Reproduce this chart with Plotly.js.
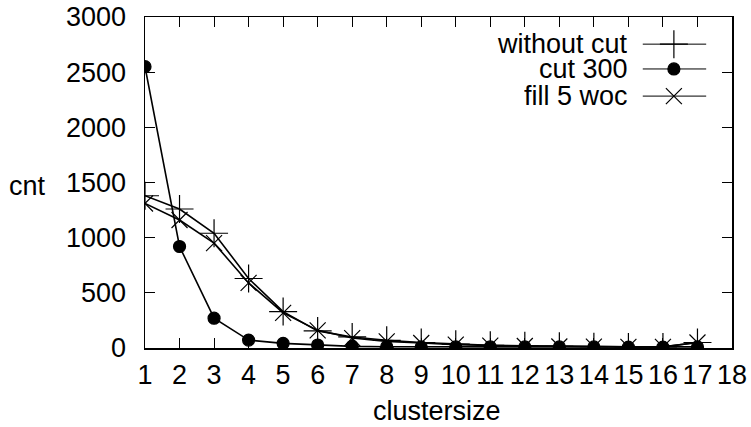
<!DOCTYPE html>
<html><head><meta charset="utf-8">
<script src="https://cdn.plot.ly/plotly-3.0.1.min.js"></script>
<style>body{margin:0;background:#fff}#c{width:751px;height:427px}</style>
</head><body><div id="c"></div>
<script>
var clustersize = [1,2,3,4,5,6,7,8,9,10,11,12,13,14,15,16,17];
var withoutCut = [1380,1260,1040,630,330,155,100,70,50,35,25,20,15,12,10,10,50];
var cut300 = [2550,920,270,72,42,27,15,12,10,10,10,10,10,10,8,8,10];
var fill5woc = [1310,1160,950,590,318,160,90,60,45,30,22,18,14,12,10,10,50];
var seriesNames = ['without cut','cut 300','fill 5 woc'];
var xTicks = [1,2,3,4,5,6,7,8,9,10,11,12,13,14,15,16,17,18];
var yTicks = [0,500,1000,1500,2000,2500,3000];

var font = {family:'Liberation Sans, Arial, sans-serif', size:27, color:'#000'};
var symbols = ['cross-thin-open','circle','x-thin-open'];
var msize = [20,12,16];
var data = [withoutCut, cut300, fill5woc];
var traces = data.map(function(d,i){
  return {x:clustersize, y:d, type:'scatter', mode:'lines+markers', name:seriesNames[i],
    line:{color:'#000', width:1.6},
    marker:{symbol:symbols[i], size:msize[i], color:'#000', line:{color:'#000', width:1.2}},
    showlegend:false, hoverinfo:'skip'};
});
var legY = [0.918, 0.843, 0.761];
var shapes = [];
var annotations = [];
seriesNames.forEach(function(n,i){
  shapes.push({type:'line', xref:'paper', yref:'paper', x0:0.848, x1:0.956, y0:legY[i], y1:legY[i], line:{color:'#000', width:1}});
  annotations.push({text:n, xref:'paper', yref:'paper', x:0.825, y:legY[i], xanchor:'right', yanchor:'middle', showarrow:false, font:font, height:24, borderpad:0});
  traces.push({x:[0.901], y:[legY[i]], xaxis:'x2', yaxis:'y2', type:'scatter', mode:'markers',
    marker:{symbol:symbols[i], size:msize[i], color:'#000', line:{color:'#000', width:1.2}}, showlegend:false, hoverinfo:'skip'});
});
annotations.push({text:'cnt', xref:'paper', yref:'paper', x:-0.201, y:0.49, xanchor:'center', yanchor:'middle', showarrow:false, font:font});
annotations.push({text:'clustersize', xref:'paper', yref:'paper', x:0.498, y:-0.19, xanchor:'center', yanchor:'middle', showarrow:false, font:font});

var layout = {
  width:751, height:427,
  margin:{l:145, r:19, t:17, b:79},
  paper_bgcolor:'#fff', plot_bgcolor:'#fff',
  font:font,
  showlegend:false,
  xaxis:{range:[1,18], tickvals:xTicks, ticktext:xTicks.map(String), ticks:'inside', ticklen:10, tickcolor:'#000',
    mirror:'allticks', showline:true, linecolor:'#000', linewidth:1.5, showgrid:false, zeroline:false,
    tickfont:font, ticklabelstandoff:2},
  yaxis:{range:[0,3000], tickvals:yTicks, ticks:'inside', ticklen:10, tickcolor:'#000',
    mirror:'allticks', showline:true, linecolor:'#000', linewidth:1.5, showgrid:false, zeroline:false,
    tickfont:font, ticklabelstandoff:12},
  xaxis2:{overlaying:'x', range:[0,1], visible:false},
  yaxis2:{overlaying:'y', range:[0,1], visible:false},
  shapes:shapes, annotations:annotations
};
Plotly.newPlot('c', traces, layout, {staticPlot:true});
</script></body></html>
